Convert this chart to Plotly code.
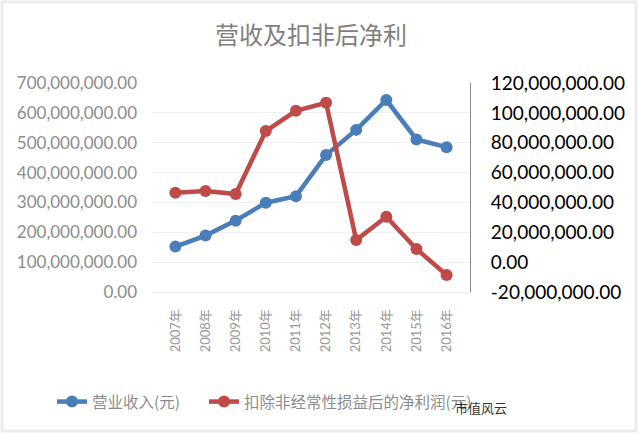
import plotly.graph_objects as go

years = ["2007年", "2008年", "2009年", "2010年", "2011年", "2012年", "2013年", "2014年", "2015年", "2016年"]
revenue = [152e6, 189e6, 239e6, 299e6, 321e6, 459e6, 543e6, 643e6, 511e6, 485e6]
net_profit = [46.5e6, 47.6e6, 45.6e6, 87.8e6, 101.4e6, 106.8e6, 14.8e6, 30.4e6, 8.8e6, -8.6e6]

left_ticks = [0, 100e6, 200e6, 300e6, 400e6, 500e6, 600e6, 700e6]
left_text = ["0.00", "100,000,000.00", "200,000,000.00", "300,000,000.00",
             "400,000,000.00", "500,000,000.00", "600,000,000.00", "700,000,000.00"]
right_ticks = [-20e6, 0, 20e6, 40e6, 60e6, 80e6, 100e6, 120e6]
right_text = ["-20,000,000.00", "0.00", "20,000,000.00", "40,000,000.00",
              "60,000,000.00", "80,000,000.00", "100,000,000.00", "120,000,000.00"]

BLUE = "#4a7ebb"
RED = "#be4b48"
CJK = "Noto Sans CJK SC"
NUM = "Lato, Noto Sans CJK SC"

PL, PR, PT, PB = 152, 168, 83, 141
PW, PH = 638 - PL - PR, 433 - PT - PB

fig = go.Figure()
fig.add_trace(go.Scatter(
    x=years, y=revenue, name="营业收入(元)", mode="lines+markers",
    line=dict(color=BLUE, width=4.5), marker=dict(color=BLUE, size=12),
    yaxis="y", legend="legend"))
fig.add_trace(go.Scatter(
    x=years, y=net_profit, name="扣除非经常性损益后的净利润(元)", mode="lines+markers",
    line=dict(color=RED, width=4.5), marker=dict(color=RED, size=12),
    yaxis="y2", legend="legend2"))

legend_common = dict(xanchor="left", y=(PH + PT - 402) / PH, yanchor="middle",
                     orientation="h",
                     font=dict(family=CJK, size=15.5, color="#8c8c8c"),
                     bgcolor="rgba(0,0,0,0)")

fig.update_layout(
    width=638, height=433,
    margin=dict(l=PL, r=PR, t=PT, b=PB),
    paper_bgcolor="white", plot_bgcolor="white",
    title=dict(text="营收及扣非后净利", x=0.5, xanchor="center", xref="paper",
               y=1 - 36 / 433, yanchor="middle", yref="container",
               font=dict(family=CJK, size=24, color="#7f7f7f")),
    xaxis=dict(tickangle=-90, showgrid=False, showline=True, linecolor="#eeeeee",
               linewidth=1, ticks="", tickfont=dict(family=NUM, size=13, color="#999999"),
               ticklabelstandoff=11),
    yaxis=dict(range=[0, 700e6], tickvals=left_ticks, ticktext=left_text,
               showgrid=True, gridcolor="#f0f0f0", gridwidth=1, zeroline=False,
               showline=False, ticks="", ticklabelstandoff=14,
               tickfont=dict(family=NUM, size=17, color="#8c8c8c")),
    yaxis2=dict(range=[-20e6, 120e6], tickvals=right_ticks, ticktext=right_text,
                overlaying="y", side="right", showgrid=False, zeroline=False,
                showline=True, linecolor="#888888", linewidth=1, ticks="",
                ticklabelstandoff=16,
                tickfont=dict(family=NUM, size=19, color="#000000")),
    legend=dict(x=(52 - PL) / PW, **legend_common),
    legend2=dict(x=(204 - PL) / PW, **legend_common),
    showlegend=True,
)

fig.add_annotation(text="市值风云", xref="paper", yref="paper",
                   x=(481 - PL) / PW, y=-(407 - (PT + PH)) / PH,
                   xanchor="center", yanchor="middle",
                   showarrow=False, font=dict(family=CJK, size=13, color="#333333"))

fig.add_shape(type="rect", xref="paper", yref="paper",
              x0=-(PL - 2) / PW, x1=1 + (PR - 2) / PW, y0=-(PB - 2) / PH, y1=1 + (PT - 2) / PH,
              line=dict(color="#ededed", width=3), layer="below")

fig.write_html("out.html")
